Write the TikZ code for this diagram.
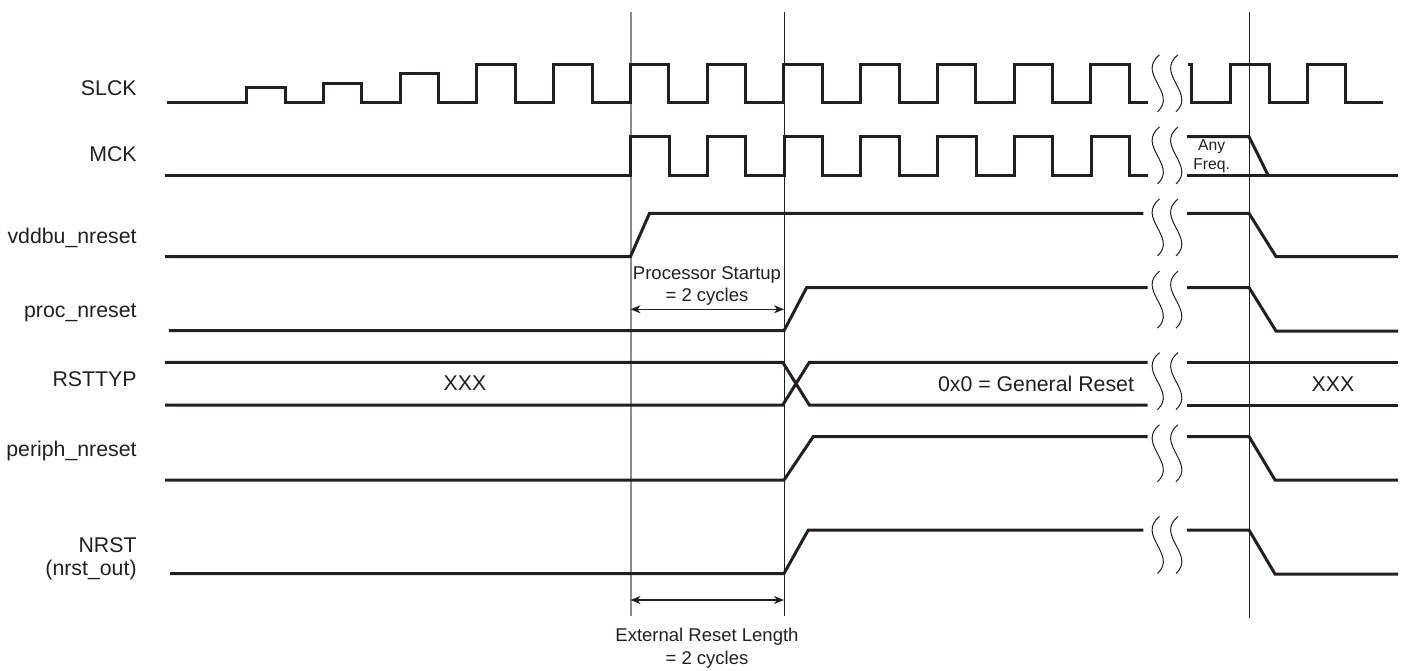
\documentclass[tikz,border=0pt]{standalone}
\usepackage{fontspec}
\setmainfont{Liberation Sans}
\usetikzlibrary{arrows.meta,calc}
\definecolor{SigBlack}{RGB}{35,31,32}
\definecolor{GuideGray}{RGB}{140,140,140}

\begin{document}
\begin{tikzpicture}[x=0.5pt, y=-0.5pt, every node/.style={inner sep=0pt, text=SigBlack}]
\tikzset{
  sigline/.style={line width=1.5pt, SigBlack, line join=miter},
  guideline/.style={line width=0.5pt, SigBlack},
  signame/.style={anchor=base east, font=\fontsize{10.65}{12.8}\selectfont},
  busval/.style={font=\fontsize{10.65}{12.8}\selectfont},
  dimnote/.style={align=center, font=\fontsize{9.25}{11}\selectfont},
  dimarrow/.style={{Stealth[length=5pt,width=4pt,inset=1.5pt]}-{Stealth[length=5pt,width=4pt,inset=1.5pt]}, line width=0.7pt, SigBlack},
  breakline/.style={line width=0.5pt, SigBlack}
}
\useasboundingbox (0,0) rectangle (1404,670);

  \coordinate (g1top) at (630.5,12);  \coordinate (g1bot) at (630.5,616);
  \coordinate (g2top) at (784,12);    \coordinate (g2bot) at (784,616);
  \coordinate (g3top) at (1249,12);   \coordinate (g3bot) at (1249,618);
  \draw[guideline, GuideGray, line width=1pt] (g1top) -- (g1bot);
  \draw[guideline] (g2top) -- (g2bot);
  \draw[guideline] (g3top) -- (g3bot);

  \node[signame] (nslck) at (137,95) {SLCK};
  \node[signame] (nmck) at (137,161) {MCK};
  \node[signame] (nvddbu) at (137,243.3) {vddbu\_nreset};
  \node[signame] (nproc) at (137,317.3) {proc\_nreset};
  \node[signame] (nrsttyp) at (137,386.7) {RSTTYP};
  \node[signame] (nperiph) at (137,456.7) {periph\_nreset};
  \node[signame, anchor=east, align=right, font=\fontsize{10.65}{11.5}\selectfont] (nnrst) at (137,558.5)
    {NRST\\(nrst\_out)};

  \draw[sigline] (166.7,102.7) -- (246.5,102.7) -- (246.5,87.7) -- (285,87.7) -- (285,102.7)
    -- (323.2,102.7) -- (323.2,83) -- (361.7,83) -- (361.7,102.7)
    -- (400,102.7) -- (400,73.3) -- (438.5,73.3) -- (438.5,102.7) -- (476.75,102.7)
    \foreach \k in {0,...,7} { -- ++(0,-38.7) -- ++(38.5,0) -- ++(0,38.7) -- ++(38.25,0) }
    -- ++(0,-38.7) -- ++(38.5,0) -- ++(0,38.7) -- (1147.7,102.7);
  \draw[sigline] (1188,64) -- (1191.7,64) -- (1191.7,102.7) -- (1230,102.7) -- (1230,64)
    -- (1269,64) -- (1269,102.7) -- (1307,102.7) -- (1307,64) -- (1345.7,64)
    -- (1345.7,102.7) -- (1383,102.7);

  \draw[sigline] (165,175) -- (630.5,175)
    \foreach \k in {0,...,5} { -- ++(0,-38.3) -- ++(38.5,0) -- ++(0,38.3) -- ++(38.25,0) }
    -- ++(0,-38.3) -- ++(38.5,0) -- ++(0,38.3) -- (1147.7,175);
  \draw[sigline] (1187,136.7) -- (1249,136.7) -- (1268,175);
  \draw[sigline] (1187,175) -- (1398,175);
  \node[align=center, font=\fontsize{7.85}{9.5}\selectfont] (anyfreq) at (1211.7,156) {Any\\Freq.};

  \draw[sigline] (165,256.5) -- (630.5,256.5) -- (649.5,213.3) -- (1143.3,213.3);
  \draw[sigline] (1187,213.3) -- (1249,213.3) -- (1276,256.5) -- (1398,256.5);

  \draw[sigline] (169,330.7) -- (784,330.7) -- (806.7,287.5) -- (1147.7,287.5);
  \draw[sigline] (1187,287.5) -- (1249,287.5) -- (1276,331) -- (1398,331);

  \draw[sigline] (165,362.3) -- (782.7,362.3) -- (809.3,405) -- (1147.7,405);
  \draw[sigline] (165,405) -- (782.7,405) -- (809.3,362.3) -- (1147.7,362.3);
  \draw[sigline] (1187,362.3) -- (1398,362.3);
  \draw[sigline] (1187,405) -- (1398,405);
  \node[busval] (xxxL) at (465,383.5) {XXX};
  \node[busval] (genrst) at (1036,383.5) {0x0 = General Reset};
  \node[busval] (xxxR) at (1333,384) {XXX};

  \draw[sigline] (165,480) -- (784,480) -- (813.3,436.5) -- (1147.7,436.5);
  \draw[sigline] (1187,436.5) -- (1249,436.5) -- (1275,480) -- (1398,480);

  \draw[sigline] (170,573.5) -- (784,573.5) -- (808.3,530) -- (1143.3,530);
  \draw[sigline] (1187,530) -- (1249,530) -- (1275,574) -- (1398,574);

  \foreach \cy in {83.3,155.5,227.5,299.7,381.2,453.3,545}
    \foreach \dx in {0,18.5}
      \draw[breakline] ({1159.5+\dx},{\cy-28.5}) .. controls ({1136+\dx},{\cy-9.5})
        and ({1178+\dx},{\cy+9.5}) .. ({1157.5+\dx},{\cy+28.5});

  \coordinate (psL) at (630.5,309.3);
  \coordinate (psR) at (784,309.3);
  \draw[dimarrow] (psL) -- (psR);
  \node[dimnote] (pslen) at (707,286) {Processor Startup\\= 2 cycles};

  \coordinate (erL) at (630.5,600);
  \coordinate (erR) at (784,600);
  \draw[dimarrow] (erL) -- (erR);
  \node[dimnote, font=\fontsize{9.25}{11.5}\selectfont] (erlen) at (707,648.3) {External Reset Length\\= 2 cycles};
\end{tikzpicture}
\end{document}
